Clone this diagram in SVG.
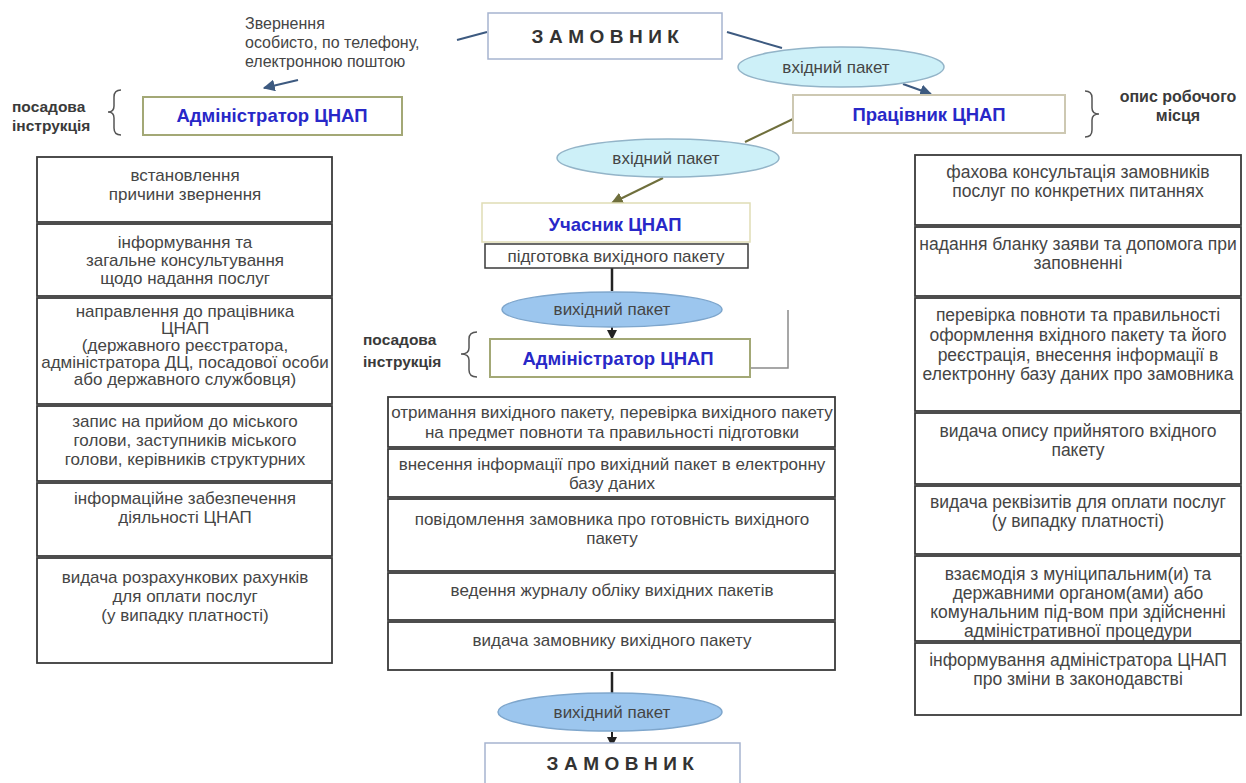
<svg xmlns="http://www.w3.org/2000/svg" width="1246" height="783" viewBox="0 0 1246 783">
<defs>
<marker id="ahBlue" viewBox="0 0 10 10" refX="9" refY="5" markerWidth="6" markerHeight="6" orient="auto"><path d="M0,0 L10,5 L0,10 z" fill="#3d5a80"/></marker>
<marker id="ahOlive" viewBox="0 0 10 10" refX="9" refY="5" markerWidth="6" markerHeight="6" orient="auto"><path d="M0,0 L10,5 L0,10 z" fill="#6f6f3c"/></marker>
<marker id="ahBlack" viewBox="0 0 10 10" refX="9" refY="5" markerWidth="5" markerHeight="5" orient="auto"><path d="M0,0 L10,5 L0,10 z" fill="#222"/></marker>
</defs>
<style>
text{font-family:"Liberation Sans",Arial,sans-serif}
.t{font-size:17px;fill:#454545;text-anchor:middle}
.tr{font-size:17.5px;fill:#454545;text-anchor:middle}
.tl{font-size:16px;fill:#454545}
.h{font-size:18.5px;font-weight:bold;fill:#2828c8;text-anchor:middle}
.z{font-size:19px;font-weight:bold;fill:#333;letter-spacing:5.5px;text-anchor:middle}
.lbl{font-size:15.5px;font-weight:bold;fill:#3a3a3a}
.row{fill:#fff;stroke:#3a3a3a;stroke-width:1.8}
.adm{fill:#fff;stroke:#a3a876;stroke-width:2}
.prc{fill:#fff;stroke:#cdc8b2;stroke-width:2}
.uch{fill:#fff;stroke:#e0ddb5;stroke-width:1.5}
.zam{fill:#fff;stroke:#a6b4cf;stroke-width:1.5}
.ein{fill:#cdf0f8;stroke:#93b4c8;stroke-width:1.5}
.eout{fill:#9cc6ee;stroke:#7ea6cc;stroke-width:1.5}
.brace{fill:none;stroke:#555;stroke-width:1.5}
</style>

<g id="connectors">
<line x1="457" y1="40" x2="487" y2="32" stroke="#3d5a80" stroke-width="2"/>
<line x1="727" y1="32" x2="782" y2="48" stroke="#3d5a80" stroke-width="2"/>
<line x1="903" y1="84" x2="931" y2="94" stroke="#3d5a80" stroke-width="2" marker-end="url(#ahBlue)"/>
<line x1="298" y1="80" x2="264" y2="88" stroke="#3d5a80" stroke-width="2" marker-end="url(#ahBlue)"/>
<line x1="793" y1="119" x2="745" y2="142" stroke="#6f6f3c" stroke-width="2"/>
<line x1="663" y1="178" x2="612" y2="203" stroke="#6f6f3c" stroke-width="2" marker-end="url(#ahOlive)"/>
<line x1="612" y1="268" x2="612" y2="291" stroke="#222" stroke-width="2.5"/>
<line x1="612" y1="327" x2="612" y2="339" stroke="#222" stroke-width="2" marker-end="url(#ahBlack)"/>
<polyline points="788,310 788,368 680,368" fill="none" stroke="#8a8a8a" stroke-width="1.5"/>
<line x1="612" y1="672" x2="612" y2="693" stroke="#222" stroke-width="2.5"/>
<line x1="612" y1="732" x2="612" y2="746" stroke="#222" stroke-width="2" marker-end="url(#ahBlack)"/>
</g>

<g id="zamovnyk-top">
<rect class="zam" x="488" y="13" width="234" height="46"/>
<text class="z" x="608" y="43">ЗАМОВНИК</text>
</g>

<g id="zvernennia">
<text class="tl" x="245" y="29">Звернення</text>
<text class="tl" x="245" y="48">особисто, по телефону,</text>
<text class="tl" x="245" y="67">електронною  поштою</text>
</g>

<g id="vkhidnyi-1">
<ellipse class="ein" cx="841" cy="67" rx="103" ry="20"/>
<text class="t" x="836" y="73">вхідний пакет</text>
</g>

<g id="posadova-1">
<text class="lbl" x="12" y="112">посадова</text>
<text class="lbl" x="12" y="131">інструкція</text>
<path class="brace" d="M121,90 Q114,90 114,97 L114,106 Q114,112 108,112 Q114,112 114,118 L114,128 Q114,135 121,135"/>
</g>

<g id="admin-top">
<rect class="adm" x="143" y="97" width="259" height="38"/>
<text class="h" x="272" y="122">Адміністратор ЦНАП</text>
</g>

<g id="pracivnyk">
<rect class="prc" x="793" y="95" width="272" height="38"/>
<text class="h" x="929" y="121">Працівник ЦНАП</text>
</g>

<g id="opys">
<path class="brace" d="M1085,91 Q1092,91 1092,98 L1092,108 Q1092,114 1099,114 Q1092,114 1092,120 L1092,130 Q1092,137 1085,137"/>
<text class="lbl" x="1178" y="102" text-anchor="middle" style="font-size:16px">опис робочого</text>
<text class="lbl" x="1178" y="121" text-anchor="middle" style="font-size:16px">місця</text>
</g>

<g id="left-column">
<rect class="row" x="37" y="157" width="295" height="65"/>
<text class="t" x="185" y="181">встановлення</text>
<text class="t" x="185" y="200">причини  звернення</text>
<rect class="row" x="37" y="224" width="295" height="72"/>
<text class="t" x="185" y="248">інформування  та</text>
<text class="t" x="185" y="266">загальне консультування</text>
<text class="t" x="185" y="284">щодо надання послуг</text>
<rect class="row" x="37" y="298" width="295" height="106"/>
<text class="t" x="185" y="317">направлення  до працівника</text>
<text class="t" x="185" y="334">ЦНАП</text>
<text class="t" x="185" y="351">(державного реєстратора,</text>
<text class="t" x="185" y="368">адміністратора ДЦ, посадової особи</text>
<text class="t" x="185" y="385">або державного службовця)</text>
<rect class="row" x="37" y="406" width="295" height="75"/>
<text class="t" x="185" y="427">запис на прийом  до міського</text>
<text class="t" x="185" y="446">голови, заступників міського</text>
<text class="t" x="185" y="465">голови, керівників  структурних</text>
<rect class="row" x="37" y="483" width="295" height="73"/>
<text class="t" x="185" y="504">інформаційне  забезпечення</text>
<text class="t" x="185" y="523">діяльності ЦНАП</text>
<rect class="row" x="37" y="558" width="295" height="105"/>
<text class="t" x="185" y="583">видача розрахункових рахунків</text>
<text class="t" x="185" y="602">для оплати послуг</text>
<text class="t" x="185" y="621">(у випадку платності)</text>
</g>

<g id="vkhidnyi-2">
<ellipse class="ein" cx="668" cy="158" rx="111" ry="19"/>
<text class="t" x="666" y="164">вхідний пакет</text>
</g>

<g id="uchasnyk">
<rect class="uch" x="482" y="203" width="268" height="39"/>
<text class="h" x="615" y="231">Учасник ЦНАП</text>
</g>

<g id="pidgotovka">
<rect class="row" x="485" y="244" width="263" height="24" style="stroke-width:1.5"/>
<text class="t" x="616" y="262">підготовка вихідного пакету</text>
</g>

<g id="vykhidnyi-1">
<ellipse class="eout" cx="612" cy="309.5" rx="110" ry="17.5"/>
<text class="t" x="612" y="315">вихідний пакет</text>
</g>

<g id="posadova-2">
<text class="lbl" x="363" y="345">посадова</text>
<text class="lbl" x="363" y="367">інструкція</text>
<path class="brace" d="M477,332 Q469,332 469,339 L469,348 Q469,354 461,354 Q469,354 469,360 L469,370 Q469,377 477,377"/>
</g>

<g id="admin-mid">
<rect class="adm" x="490" y="339" width="260" height="38"/>
<text class="h" x="618" y="365">Адміністратор ЦНАП</text>
</g>

<g id="middle-column">
<rect class="row" x="388" y="397" width="447" height="50"/>
<text class="t" x="612" y="418">отримання  вихідного  пакету, перевірка  вихідного пакету</text>
<text class="t" x="612" y="438">на предмет  повноти та правильності  підготовки</text>
<rect class="row" x="388" y="449" width="447" height="48"/>
<text class="t" x="612" y="470">внесення  інформації  про вихідний пакет в електронну</text>
<text class="t" x="612" y="489">базу даних</text>
<rect class="row" x="388" y="499" width="447" height="72"/>
<text class="t" x="612" y="525">повідомлення  замовника  про готовність вихідного</text>
<text class="t" x="612" y="544">пакету</text>
<rect class="row" x="388" y="573" width="447" height="47"/>
<text class="t" x="612" y="596">ведення  журналу обліку вихідних  пакетів</text>
<rect class="row" x="388" y="622" width="447" height="48"/>
<text class="t" x="612" y="646">видача замовнику  вихідного  пакету</text>
</g>

<g id="right-column">
<rect class="row" x="915" y="155" width="326" height="70"/>
<text class="tr" x="1078" y="178">фахова консультація замовників</text>
<text class="tr" x="1078" y="197">послуг по конкретних  питаннях</text>
<rect class="row" x="915" y="227" width="326" height="69"/>
<text class="tr" x="1078" y="250">надання бланку заяви та допомога при</text>
<text class="tr" x="1078" y="269">заповненні</text>
<rect class="row" x="915" y="298" width="326" height="113"/>
<text class="tr" x="1078" y="321">перевірка  повноти та правильності</text>
<text class="tr" x="1078" y="341">оформлення  вхідного пакету та його</text>
<text class="tr" x="1078" y="361">реєстрація, внесення інформації  в</text>
<text class="tr" x="1078" y="380">електронну  базу даних про замовника</text>
<rect class="row" x="915" y="413" width="326" height="71"/>
<text class="tr" x="1078" y="437">видача опису прийнятого  вхідного</text>
<text class="tr" x="1078" y="456">пакету</text>
<rect class="row" x="915" y="486" width="326" height="68"/>
<text class="tr" x="1078" y="508">видача реквізитів  для оплати послуг</text>
<text class="tr" x="1078" y="527">(у випадку платності)</text>
<rect class="row" x="915" y="556" width="326" height="85"/>
<text class="tr" x="1078" y="580">взаємодія з муніципальним(и)   та</text>
<text class="tr" x="1078" y="599">державними  органом(ами)  або</text>
<text class="tr" x="1078" y="618">комунальним  під-вом при здійсненні</text>
<text class="tr" x="1078" y="637">адміністративної  процедури</text>
<rect class="row" x="915" y="643" width="326" height="72"/>
<text class="tr" x="1078" y="666">інформування  адміністратора  ЦНАП</text>
<text class="tr" x="1078" y="685">про зміни  в законодавстві</text>
</g>

<g id="vykhidnyi-2">
<ellipse class="eout" cx="610" cy="712" rx="112" ry="19"/>
<text class="t" x="612" y="718">вихідний пакет</text>
</g>

<g id="zamovnyk-bottom">
<rect class="zam" x="485" y="743" width="255" height="48"/>
<text class="z" x="623" y="770">ЗАМОВНИК</text>
</g>
</svg>
